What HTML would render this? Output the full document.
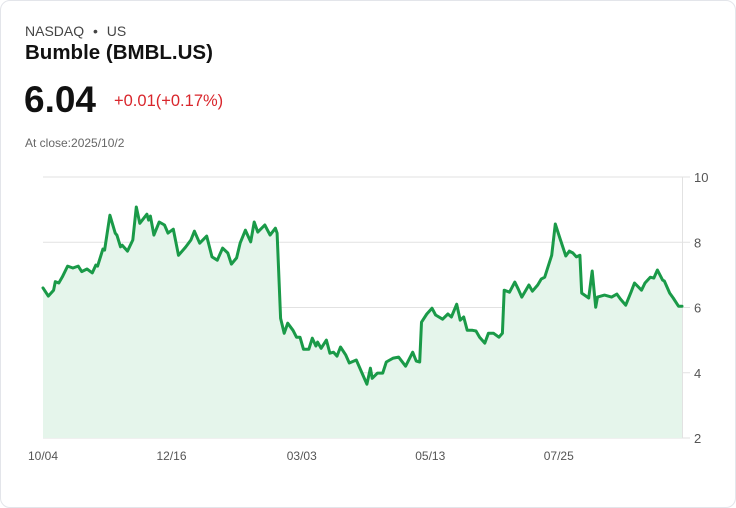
<!DOCTYPE html>
<html><head><meta charset="utf-8"><style>
body{margin:0;width:736px;height:508px;background:#fff;font-family:"Liberation Sans",sans-serif;overflow:hidden}
.card{position:absolute;left:0;top:0;width:734px;height:506px;border:1px solid #e3e5ea;border-radius:10px}
.t{position:absolute;white-space:nowrap}
</style></head><body>
<div class="card"></div>
<div class="t" style="left:25px;top:23px;font-size:14px;color:#444">NASDAQ <span style="margin:0 5px">•</span> US</div>
<div class="t" style="left:25px;top:41px;font-size:20.5px;font-weight:bold;color:#111">Bumble (BMBL.US)</div>
<div class="t" style="left:24px;top:79px;font-size:37px;font-weight:bold;color:#111">6.04</div>
<div class="t" style="left:114px;top:92px;font-size:16.5px;color:#d9262c">+0.01(+0.17%)</div>
<div class="t" style="left:25px;top:136px;font-size:12px;color:#666">At close:2025/10/2</div>
<svg id="chart" width="736" height="508" style="position:absolute;left:0;top:0"></svg>
<script>
const days=[0,3,6,7,9,11,14,17,20,22,25,28,30,31,34,35,38,41,42,44,45,48,51,53,55,59,60,61,63,66,69,71,74,77,81,84,86,89,93,96,99,102,105,107,110,112,115,118,120,122,126,129,132,133,135,137,139,142,144,146,148,151,153,155,156,158,161,163,165,167,169,172,174,178,181,184,186,187,190,193,195,197,199,202,206,210,212,214,215,218,221,223,227,230,232,235,237,239,241,244,246,248,251,253,256,259,261,262,265,268,270,272,276,278,281,283,285,289,291,294,297,299,301,303,305,306,310,312,314,315,319,323,326,328,331,334,336,340,342,345,347,349,352,353,356,358,361,363];
const prices=[6.60,6.35,6.53,6.79,6.75,6.94,7.27,7.21,7.27,7.10,7.18,7.06,7.30,7.27,7.79,7.76,8.83,8.28,8.22,7.86,7.91,7.73,8.07,9.08,8.58,8.86,8.68,8.80,8.22,8.62,8.53,8.28,8.40,7.60,7.85,8.07,8.34,7.97,8.19,7.55,7.45,7.82,7.67,7.33,7.52,7.98,8.37,8.01,8.62,8.31,8.53,8.22,8.43,8.28,5.67,5.21,5.52,5.30,5.09,5.09,4.72,4.72,5.06,4.82,4.94,4.75,5.00,4.60,4.63,4.51,4.79,4.54,4.30,4.39,4.02,3.65,4.14,3.83,3.99,3.99,4.33,4.39,4.45,4.48,4.20,4.63,4.36,4.33,5.55,5.80,5.98,5.77,5.64,5.80,5.71,6.10,5.61,5.71,5.30,5.30,5.28,5.09,4.91,5.21,5.21,5.09,5.21,6.53,6.47,6.78,6.56,6.32,6.69,6.50,6.69,6.87,6.93,7.60,8.56,8.07,7.58,7.73,7.67,7.55,7.60,6.44,6.29,7.12,6.01,6.32,6.38,6.32,6.41,6.26,6.07,6.47,6.75,6.53,6.75,6.93,6.90,7.15,6.84,6.81,6.44,6.29,6.04,6.04];
const yTicks=[2,4,6,8,10];
const xLabels=["10/04","12/16","03/03","05/13","07/25"];
const xLabelDays=[0,73,147,220,293];
const NS="http://www.w3.org/2000/svg",svg=document.getElementById('chart');
const X0=43,X1=682,Y0=438,Y1=177,DMAX=363;
const xs=d=>X0+d/DMAX*(X1-X0), ys=v=>Y0-(v-2)/8*(Y0-Y1);
function mk(t,a){const e=document.createElementNS(NS,t);for(const k in a)e.setAttribute(k,a[k]);svg.appendChild(e);return e;}
yTicks.forEach(v=>{
 const l=mk('line',{x1:X0,x2:X1+8,y1:ys(v),y2:ys(v),stroke:'#e2e2e2','stroke-width':1});
 
 
 const t=mk('text',{x:694,y:ys(v)+5,'font-size':13,fill:'#555','font-family':'Liberation Sans'});
 t.textContent=v;
 
 
});
const ax=mk('line',{x1:X1+0.5,x2:X1+0.5,y1:Y1,y2:Y0,stroke:'#e2e2e2'});


xLabels.forEach((s,i)=>{
 const t=mk('text',{x:xs(xLabelDays[i]),y:460,'font-size':12,fill:'#555','text-anchor':'middle','font-family':'Liberation Sans'});
 t.textContent=s;
 
 
});
let d=days.map((dd,i)=>(i?'L':'M')+xs(dd).toFixed(1)+','+ys(prices[i]).toFixed(1)).join('');
const area=mk('path',{d:d+'L'+xs(days[days.length-1])+','+Y0+'L'+xs(0)+','+Y0+'Z',fill:'#e5f5eb'});


const line=mk('path',{d:d,fill:'none',stroke:'#1a9a48','stroke-width':3,'stroke-linejoin':'round','stroke-linecap':'round'});


</script>
</body></html>
